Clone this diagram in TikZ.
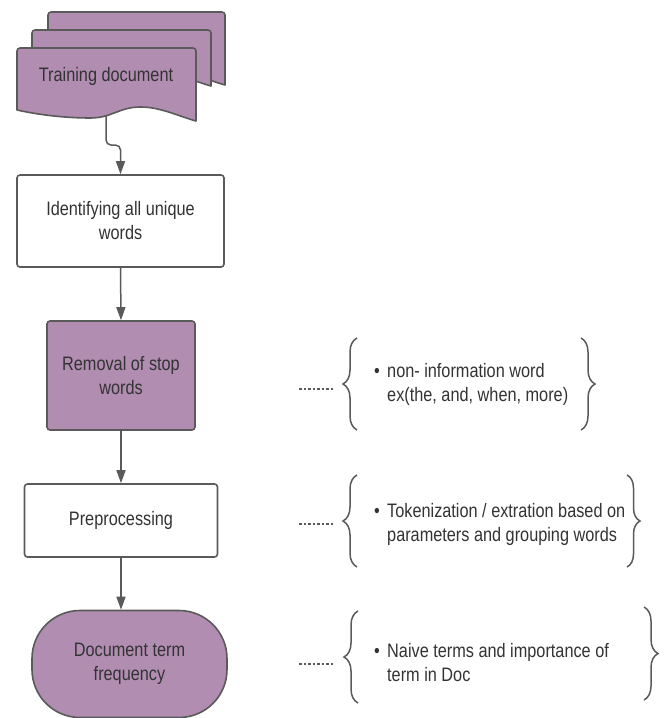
\documentclass[tikz,border=0pt]{standalone}
\usepackage{fontspec}
\setmainfont[FakeStretch=0.835]{Liberation Sans}
\usetikzlibrary{arrows.meta,decorations.pathreplacing}
\definecolor{lav}{HTML}{B08DB1}
\definecolor{edge}{HTML}{5A5A5A}
\definecolor{ink}{HTML}{333333}
\newcommand\docpath[4]{%
 (#1,#4-11) .. controls ({#1+0.15*(#3-#1)},#4-5) and ({#1+0.3*(#3-#1)},#4-3) .. ({#1+0.41*(#3-#1)},#4-3)
 .. controls ({#1+0.53*(#3-#1)},#4-3) and ({#1+0.57*(#3-#1)},#4-14) .. ({#1+0.69*(#3-#1)},#4-14)
 .. controls ({#1+0.8*(#3-#1)},#4-14) and ({#1+0.9*(#3-#1)},#4-5) .. (#3,#4)
 [rounded corners=3pt] -- (#3,#2) -- (#1,#2) -- (#1,#4-11) [sharp corners] -- cycle}
\begin{document}
\begin{tikzpicture}[x=1pt,y=-1pt,
  every node/.style={font=\fontsize{19.5}{24}\selectfont, text=ink},
  box/.style={draw=edge, line width=1.6pt, rounded corners=3pt, align=center, inner sep=0pt, fill=white},
  purplebox/.style={box, fill=lav},
  flow/.style={draw=edge, line width=1.5pt, -{Triangle[length=13pt,width=9pt]}},
  doc/.style={draw=edge, line width=1.6pt, fill=lav, line join=round},
  brc/.style={draw=edge, line width=1.5pt, decorate, decoration={brace, amplitude=14pt}},
  dotline/.style={draw=edge, line width=2.6pt, dash pattern=on 2.6pt off 1.9pt},
  note/.style={align=left, anchor=north west, inner sep=0pt}
]
\useasboundingbox (0,0) rectangle (664,718);
% stacked documents
\draw[doc] \docpath{48}{12}{225}{85};
\draw[doc] \docpath{32}{30}{211}{86};
\draw[doc] \docpath{17}{48}{196}{121};
\node (train) at (106,76) {Training document};
\coordinate (docout) at (106,116);
% process boxes
\node[box, minimum width=207pt, minimum height=92pt] (id) at (120.5,221) {Identifying all unique\\words};
\node[purplebox, minimum width=148pt, minimum height=109pt] (rm) at (121,375.5) {Removal of stop\\words};
\node[box, minimum width=193pt, minimum height=73pt] (pre) at (121,520.5) {Preprocessing};
\node[purplebox, rounded corners=48pt, minimum width=195pt, minimum height=107pt] (dtf) at (129.5,664) {Document term\\frequency};
% connectors
\draw[flow, rounded corners=5pt] (docout) -- (106,145) -- (120.5,145) -- (id.north);
\draw[flow] (id.south) -- (rm.north);
\draw[flow] (rm.south) -- (pre.north);
\draw[flow] (pre.south) -- (pre.south |- dtf.north);
% dotted leaders
\draw[dotline] (299,389) -- (333,389);
\draw[dotline] (299,524) -- (333,524);
\draw[dotline] (299,664) -- (333,664);
% braces
\draw[brc] (357,430) -- (357,338);
\draw[brc] (581,338) -- (581,430);
\draw[brc] (357,567) -- (357,475);
\draw[brc, decoration={brace, amplitude=13pt}] (627,475) -- (627,567);
\draw[brc] (358,703) -- (358,611);
\draw[brc] (644,607) -- (644,700);
% notes
\node[note] (n1) at (374,360.2) {\strut\makebox[13pt][l]{•}non- information word\\\hspace*{13pt}ex(the, and, when, more)};
\node[note] (n2) at (374,500.2) {\strut\makebox[13pt][l]{•}Tokenization / extration based on\\\hspace*{13pt}parameters and grouping words};
\node[note] (n3) at (374,640.2) {\strut\makebox[13pt][l]{•}Naive terms and importance of\\\hspace*{13pt}term in Doc};
\end{tikzpicture}
\end{document}
